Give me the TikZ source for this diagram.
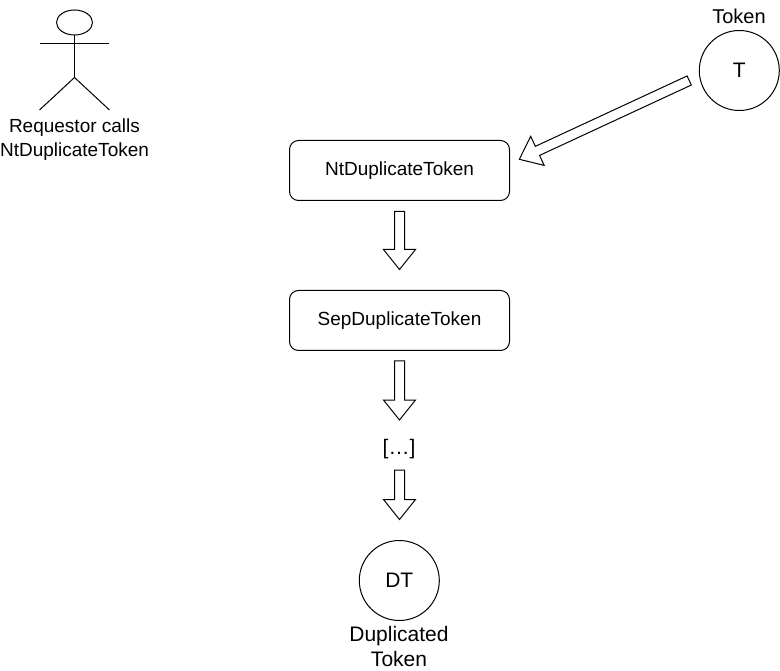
\documentclass[tikz,border=0pt]{standalone}
\usepackage{fontspec}
\setmainfont{Liberation Sans}
\usetikzlibrary{calc,shapes.geometric}
\tikzset{
  txt/.style={inner sep=0pt,align=center,font=\fontsize{19}{24}\selectfont},
  big/.style={font=\fontsize{21}{25}\selectfont},
  box/.style={txt,draw=black,line width=1pt,rounded corners=9pt,minimum width=220pt,minimum height=60pt},
  disc/.style={txt,big,draw=black,line width=1pt,circle,minimum size=80pt},
  conn/.style={draw=black,line width=1pt,line join=miter,fill=white},
  stick/.style={draw=black,line width=1pt}
}
\newcommand{\blockarrow}[2]{%
  \coordinate (hb) at ($(#2)!20pt!(#1)$);
  \draw[conn] ($(#1)!5pt!90:(#2)$) -- ($(hb)!5pt!-90:(#1)$) -- ($(hb)!16pt!-90:(#1)$) -- (#2)
    -- ($(hb)!16pt!90:(#1)$) -- ($(hb)!5pt!90:(#1)$) -- ($(#1)!5pt!-90:(#2)$) -- cycle;}
\begin{document}
\begin{tikzpicture}[x=1pt,y=-1pt]
\useasboundingbox (0,0) rectangle (780,671);
% actor
\node[stick,ellipse,minimum width=36pt,minimum height=25pt,inner sep=0pt] (head) at (74.5,22.5) {};
\coordinate (hip) at (74.5,77.5);
\coordinate (armL) at (40,43.7);
\coordinate (armR) at (109,43.7);
\coordinate (legL) at (39.5,110);
\coordinate (legR) at (109.5,110);
\draw[stick] (head.south) -- (hip);
\draw[stick] (armL) -- (armR);
\draw[stick] (legL) -- (hip) -- (legR);
\node[txt] (actorlabel) at (74.5,140) {Requestor calls\\NtDuplicateToken};
% nodes
\node[disc] (t) at (739.3,70.5) {T};
\node[txt,font=\fontsize{20}{24}\selectfont] (tlabel) at (739,16) {Token};
\node[box] (nt) at (399.5,170.5) {NtDuplicateToken};
\node[box] (sep) at (399.5,320.5) {SepDuplicateToken};
\node[txt,big] (dots) at (399,449) {[…]};
\node[disc] (dt) at (399.3,580.5) {DT};
\node[txt,big] (dtlabel) at (399,646) {Duplicated\\Token};
% connectors
\coordinate (a1s) at (689.2,80.5);
\coordinate (a1e) at (519.3,159.3);
\blockarrow{a1s}{a1e}
\coordinate (a2s) at ($(nt.south)+(0,10.5)$);
\coordinate (a2e) at ($(sep.north)+(0,-20.5)$);
\blockarrow{a2s}{a2e}
\coordinate (a3s) at ($(sep.south)+(0,10)$);
\coordinate (a3e) at (399.5,420);
\blockarrow{a3s}{a3e}
\coordinate (a4s) at (399.5,470);
\coordinate (a4e) at ($(dt.north)+(0.2,-20.5)$);
\blockarrow{a4s}{a4e}
\end{tikzpicture}
\end{document}
